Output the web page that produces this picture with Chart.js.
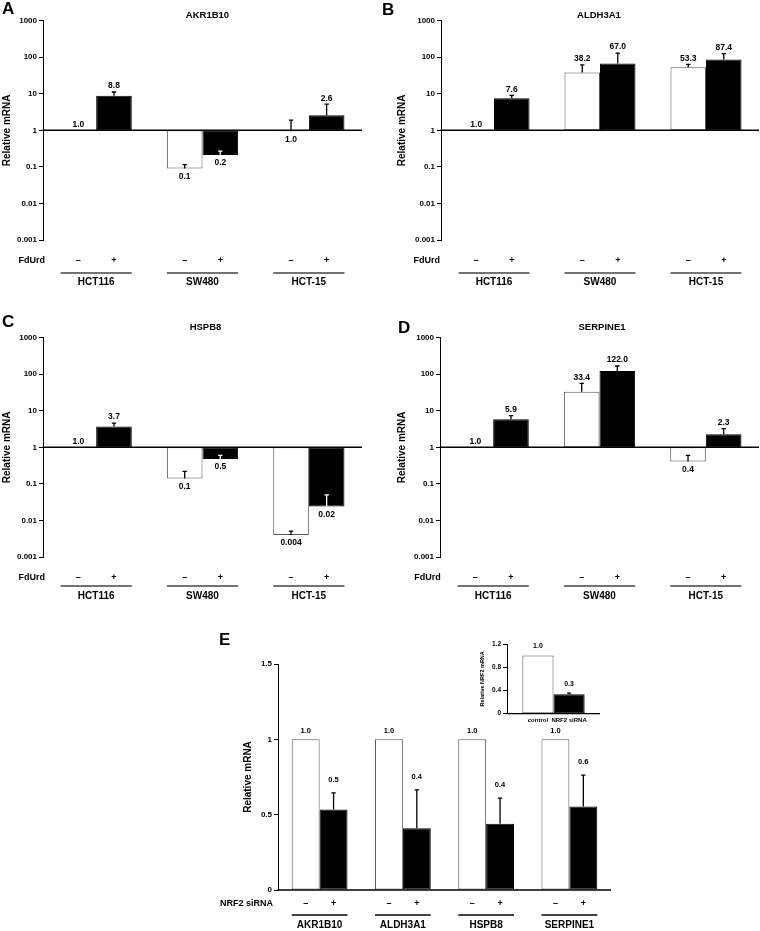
<!DOCTYPE html>
<html><head><meta charset="utf-8">
<script src="https://cdn.jsdelivr.net/npm/chart.js@4.4.1/dist/chart.umd.min.js"></script>
<style>
html,body{margin:0;padding:0;background:#fff;}
body{width:760px;height:931px;position:relative;overflow:hidden;}
.c{position:absolute;}
</style></head><body>
<div class="c" style="left:0;top:0;width:380px;height:300px"><canvas id="cA"></canvas></div>
<div class="c" style="left:380px;top:0;width:380px;height:300px"><canvas id="cB"></canvas></div>
<div class="c" style="left:0;top:300px;width:380px;height:310px"><canvas id="cC"></canvas></div>
<div class="c" style="left:380px;top:300px;width:380px;height:310px"><canvas id="cD"></canvas></div>
<div class="c" style="left:180px;top:610px;width:450px;height:321px"><canvas id="cE"></canvas></div>
<div class="c" style="left:460px;top:615px;width:160px;height:115px"><canvas id="cI"></canvas></div>
<script>
// ---------- DATA ----------
const cellLines = ['HCT116', 'SW480', 'HCT-15'];
const treatMarks = ['–', '+'];
const logTickValues = [0.001, 0.01, 0.1, 1, 10, 100, 1000];
const logTickLabels = ['0.001', '0.01', '0.1', '1', '10', '100', '1000'];

// A: AKR1B10 (value, upper end of error bar, printed label)
const akrCtrl = [1.0, 0.09, 0.95];
const akrCtrlErr = [1.0, 0.115, 1.9];
const akrCtrlLbl = ['1.0', '0.1', '1.0'];
const akrFd = [8.8, 0.21, 2.6];
const akrFdErr = [11.2, 0.27, 5.2];
const akrFdLbl = ['8.8', '0.2', '2.6'];

// B: ALDH3A1
const aldCtrl = [1.0, 38.2, 53.3];
const aldCtrlErr = [1.0, 62, 64];
const aldCtrlLbl = ['1.0', '38.2', '53.3'];
const aldFd = [7.6, 67.0, 87.4];
const aldFdErr = [9.1, 130, 126];
const aldFdLbl = ['7.6', '67.0', '87.4'];

// C: HSPB8
const hspCtrl = [1.0, 0.14, 0.004];
const hspCtrlErr = [1.0, 0.22, 0.0051];
const hspCtrlLbl = ['1.0', '0.1', '0.004'];
const hspFd = [3.7, 0.48, 0.024];
const hspFdErr = [4.6, 0.6, 0.05];
const hspFdLbl = ['3.7', '0.5', '0.02'];

// D: SERPINE1
const serCtrl = [1.0, 33.4, 0.41];
const serCtrlErr = [1.0, 56, 0.6];
const serCtrlLbl = ['1.0', '33.4', '0.4'];
const serFd = [5.9, 122.0, 2.3];
const serFdErr = [7.4, 168, 3.25];
const serFdLbl = ['5.9', '122.0', '2.3'];

// E: NRF2 siRNA
const genes = ['AKR1B10', 'ALDH3A1', 'HSPB8', 'SERPINE1'];
const linTickValues = [0, 0.5, 1, 1.5];
const linTickLabels = ['0', '0.5', '1', '1.5'];
const siCtrl = [1.0, 1.0, 1.0, 1.0];
const siCtrlErr = [1.004, 1.004, 1.004, 1.004];
const siCtrlLbl = ['1.0', '1.0', '1.0', '1.0'];
const siKd = [0.535, 0.41, 0.44, 0.555];
const siKdErr = [0.645, 0.665, 0.61, 0.762];
const siKdLbl = ['0.5', '0.4', '0.4', '0.6'];

// Inset: NRF2 mRNA
const insetGroups = ['control', 'NRF2 siRNA'];
const insetValues = [1.0, 0.335];
const insetErr = [1.01, 0.355];
const insetLbl = ['1.0', '0.3'];
const insetTickValues = [0, 0.4, 0.8, 1.2];
const insetTickLabels = ['0', '0.4', '0.8', '1.2'];

// ---------- DRAWING ----------
const F = '"Liberation Sans", Arial, Helvetica, sans-serif';
const fnt = (s) => 'bold ' + s + 'px ' + F;

const annot = {
  id: 'annot',
  afterDatasetsDraw(chart, args, o) {
    const ctx = chart.ctx, ca = chart.chartArea, ys = chart.scales.y, xs = chart.scales.x;
    ctx.save();
    // baseline
    const by = ys.getPixelForValue(o.baseValue);
    ctx.strokeStyle = '#000'; ctx.lineWidth = o.baseWidth;
    ctx.beginPath(); ctx.moveTo(ca.left - 0.5, by); ctx.lineTo(ca.right, by); ctx.stroke();
    // error bars + value labels
    chart.data.datasets.forEach((ds, di) => {
      const meta = chart.getDatasetMeta(di);
      meta.data.forEach((bar, i) => {
        const v = ds.values[i], e = ds.errs[i];
        const yv = ys.getPixelForValue(v), ye = ys.getPixelForValue(e);
        if (e > v && Math.abs(yv - ye) > 0.8) {
          ctx.strokeStyle = (ds.dark && v < o.baseValue) ? '#fff' : '#000';
          ctx.lineWidth = 1.3;
          ctx.beginPath();
          ctx.moveTo(bar.x, yv); ctx.lineTo(bar.x, ye);
          ctx.moveTo(bar.x - o.capW, ye); ctx.lineTo(bar.x + o.capW, ye);
          ctx.stroke();
        }
        ctx.fillStyle = '#000'; ctx.font = fnt(o.valFont);
        ctx.textAlign = 'center'; ctx.textBaseline = 'middle';
        let ly;
        if (v >= o.baseValue) ly = Math.min(yv, ye) - (ds.gap || o.aboveGap);
        else ly = yv + o.belowGap;
        ctx.fillText(ds.valueLabels[i], bar.x, ly);
        // treatment mark under bar
        if (ds.mark) {
          ctx.font = fnt(o.markFont);
          ctx.fillText(ds.mark, bar.x, ca.bottom + o.rowDy);
        }
        if (ds.catLabel) {
          ctx.font = fnt(o.catFont);
          ctx.fillText(ds.catLabel, bar.x, ca.bottom + o.rowDy);
        }
      });
    });
    // group underline + group labels
    if (o.groups) {
      const m0 = chart.getDatasetMeta(0), m1 = chart.getDatasetMeta(1);
      o.groups.forEach((g, i) => {
        const b0 = m0.data[i], b1 = m1.data[i];
        ctx.strokeStyle = '#444'; ctx.lineWidth = o.lineW;
        ctx.beginPath();
        ctx.moveTo(b0.x - b0.width / 2, ca.bottom + o.lineDy);
        ctx.lineTo(b1.x + b1.width / 2, ca.bottom + o.lineDy);
        ctx.stroke();
        ctx.fillStyle = '#000'; ctx.font = fnt(o.groupFont);
        ctx.textAlign = 'center'; ctx.textBaseline = 'middle';
        ctx.fillText(g, xs.getPixelForValue(i), ca.bottom + o.groupDy);
      });
    }
    // row label
    if (o.rowLabel) {
      ctx.fillStyle = '#000'; ctx.font = fnt(o.rowFont);
      ctx.textAlign = 'center'; ctx.textBaseline = 'middle';
      ctx.fillText(o.rowLabel, o.rowX, ca.bottom + o.rowDy);
    }
    // title
    if (o.title) {
      ctx.font = fnt(o.titleFont); ctx.textAlign = 'center'; ctx.textBaseline = 'middle';
      ctx.fillText(o.title, (ca.left + ca.right) / 2 + o.titleDx, ca.top + o.titleDy);
    }
    // y title
    ctx.save();
    ctx.translate(ca.left - o.yTitleOff, (ca.top + ca.bottom) / 2);
    ctx.rotate(-Math.PI / 2);
    ctx.font = fnt(o.yTitleFont); ctx.textAlign = 'center'; ctx.textBaseline = 'middle';
    ctx.fillText(o.yTitle, 0, 0);
    ctx.restore();
    // panel letter
    if (o.letter) {
      ctx.font = fnt(17); ctx.textAlign = 'left'; ctx.textBaseline = 'alphabetic';
      ctx.fillText(o.letter, o.letterX, o.letterY);
    }
    ctx.restore();
  }
};

function yAxis(type, min, max, tv, tl, w, fs) {
  return {
    type, min, max,
    afterBuildTicks: s => { s.ticks = tv.map(v => ({ value: v })); },
    afterFit: s => { s.width = w; },
    ticks: { callback: (v, i) => tl[i], font: { family: F, size: fs, weight: 'bold' }, color: '#000', padding: 2, autoSkip: false },
    grid: { drawOnChartArea: false, drawTicks: true, tickLength: 4, color: '#000', lineWidth: 1 },
    border: { display: true, color: '#000', width: 1 }
  };
}

function barDs(vals, errs, lbls, dark, extra, floatBase) {
  return Object.assign({
    data: floatBase != null ? vals.map(v => [floatBase, v]) : vals.slice(),
    values: vals, errs: errs, valueLabels: lbls, dark: dark,
    backgroundColor: dark ? '#000' : '#fff',
    borderColor: dark ? '#000' : '#555',
    borderWidth: 1, borderSkipped: false,
    categoryPercentage: 0.67, barPercentage: 1.0
  }, extra);
}

function logPanel(id, title, letter, c, ce, cl, f, fe, fl, g) {
  new Chart(document.getElementById(id), {
    type: 'bar',
    data: {
      labels: cellLines,
      datasets: [
        barDs(c, ce, cl, false, { mark: treatMarks[0] }, 1),
        barDs(f, fe, fl, true, { mark: treatMarks[1] }, 1)
      ]
    },
    options: {
      responsive: true, maintainAspectRatio: false, animation: false,
      layout: { padding: { left: 0, top: g.padTop, right: g.padRight, bottom: g.padBottom } },
      scales: {
        x: { display: false },
        y: yAxis('logarithmic', 0.001, 1000, logTickValues, logTickLabels, g.axisW, 8)
      },
      plugins: {
        legend: { display: false }, tooltip: { enabled: false },
        annot: {
          baseValue: 1, baseWidth: 1.5, capW: 2.2, valFont: 8.5, aboveGap: 6, belowGap: 8,
          markFont: 9, groups: cellLines, lineW: 1.5, lineDy: g.lineDy, groupDy: g.groupDy, groupFont: 10,
          rowLabel: 'FdUrd', rowX: g.rowX, rowDy: g.rowDy, rowFont: 9,
          title: title, titleFont: 9.5, titleDx: g.titleDx, titleDy: g.titleDy,
          yTitle: 'Relative mRNA', yTitleFont: 10, yTitleOff: g.yTitleOff,
          letter: letter, letterX: g.letterX, letterY: g.letterY
        }
      }
    },
    plugins: [annot]
  });
}

const gTop = { padTop: 20.7, padBottom: 60, rowDy: 21, lineDy: 33, groupDy: 42, titleDy: -5.7 };
const gBot = { padTop: 37.7, padBottom: 53, rowDy: 20.5, lineDy: 29, groupDy: 39.5, titleDy: -10.7 };

logPanel('cA', 'AKR1B10', 'A', akrCtrl, akrCtrlErr, akrCtrlLbl, akrFd, akrFdErr, akrFdLbl,
  Object.assign({}, gTop, { padRight: 18, axisW: 43, titleDx: 5, yTitleOff: 35.5, rowX: 31.7, letterX: 2, letterY: 14 }));
logPanel('cB', 'ALDH3A1', 'B', aldCtrl, aldCtrlErr, aldCtrlLbl, aldFd, aldFdErr, aldFdLbl,
  Object.assign({}, gTop, { padRight: 1, axisW: 61, titleDx: -1, yTitleOff: 38.5, rowX: 46.7, letterX: 2, letterY: 15 }));
logPanel('cC', 'HSPB8', 'C', hspCtrl, hspCtrlErr, hspCtrlLbl, hspFd, hspFdErr, hspFdLbl,
  Object.assign({}, gBot, { padRight: 18, axisW: 43, titleDx: 3, yTitleOff: 35.5, rowX: 31.7, letterX: 2, letterY: 27 }));
logPanel('cD', 'SERPINE1', 'D', serCtrl, serCtrlErr, serCtrlLbl, serFd, serFdErr, serFdLbl,
  Object.assign({}, gBot, { padRight: 1, axisW: 60, titleDx: 2.5, yTitleOff: 37.5, rowX: 47.5, letterX: 18, letterY: 33 }));

// Panel E
new Chart(document.getElementById('cE'), {
  type: 'bar',
  data: {
    labels: genes,
    datasets: [
      barDs(siCtrl, siCtrlErr, siCtrlLbl, false, { mark: treatMarks[0], gap: 8 }),
      barDs(siKd, siKdErr, siKdLbl, true, { mark: treatMarks[1], gap: 13 })
    ]
  },
  options: {
    responsive: true, maintainAspectRatio: false, animation: false,
    layout: { padding: { left: 0, top: 54, right: 19, bottom: 41 } },
    scales: {
      x: { display: false },
      y: yAxis('linear', 0, 1.5, linTickValues, linTickLabels, 98, 8)
    },
    plugins: {
      legend: { display: false }, tooltip: { enabled: false },
      annot: {
        baseValue: 0, baseWidth: 1.5, capW: 2.2, valFont: 7.5, aboveGap: 10, belowGap: 8,
        markFont: 9, groups: genes, lineW: 2, lineDy: 25, groupDy: 35, groupFont: 10,
        rowLabel: 'NRF2 siRNA', rowX: 66.5, rowDy: 13.5, rowFont: 9,
        yTitle: 'Relative mRNA', yTitleFont: 10, yTitleOff: 30,
        letter: 'E', letterX: 39, letterY: 35
      }
    }
  },
  plugins: [annot]
});

// Inset
new Chart(document.getElementById('cI'), {
  type: 'bar',
  data: {
    labels: ['NRF2'],
    datasets: [
      barDs([insetValues[0]], [insetErr[0]], [insetLbl[0]], false, { catLabel: insetGroups[0] }),
      barDs([insetValues[1]], [insetErr[1]], [insetLbl[1]], true, { catLabel: insetGroups[1] })
    ]
  },
  options: {
    responsive: true, maintainAspectRatio: false, animation: false,
    layout: { padding: { left: 0, top: 29, right: 20, bottom: 16.3 } },
    scales: {
      x: { display: false },
      y: yAxis('linear', 0, 1.2, insetTickValues, insetTickLabels, 47, 6.5)
    },
    plugins: {
      legend: { display: false }, tooltip: { enabled: false },
      annot: {
        baseValue: 0, baseWidth: 1.3, capW: 2, valFont: 7, aboveGap: 9, belowGap: 8,
        catFont: 6, rowDy: 7,
        yTitle: 'Relative NRF2 mRNA', yTitleFont: 5.5, yTitleOff: 25
      }
    }
  },
  plugins: [annot]
});
</script>
</body></html>
